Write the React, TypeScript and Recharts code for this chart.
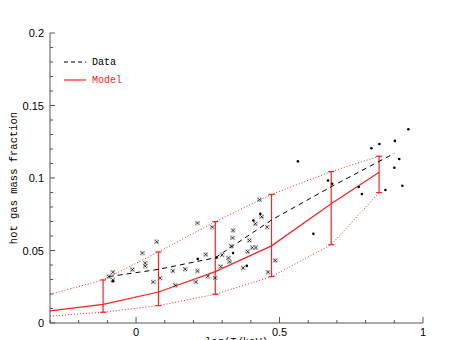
import React from "react";
import { ComposedChart, Line, Scatter, XAxis, YAxis, ErrorBar } from "recharts";

// model bins (log T) and the model band
const binX = [-0.3, -0.115, 0.078, 0.276, 0.472, 0.68, 0.847];
const modelY = [0.0083, 0.0129, 0.0214, 0.0354, 0.0532, 0.0823, 0.104];
const upperY = [0.0198, 0.0297, 0.049, 0.0699, 0.0887, 0.1044, 0.115];
const lowerY = [0.0048, 0.0074, 0.012, 0.0198, 0.032, 0.054, 0.0899];

// binned data (dashed)
const dataX = [-0.095, 0.078, 0.276, 0.472, 0.68, 0.9];
const dataY = [0.032, 0.037, 0.045, 0.071, 0.094, 0.117];

// crosses
const crossX = [0.214, 0.072, 0.022, 0.032, 0.032, -0.013, -0.081, -0.095, -0.081, 0.06, 0.084, 0.128, 0.171, 0.214, 0.137, 0.208, 0.243, 0.25, 0.43, 0.266, 0.338, 0.438, 0.416, 0.457, 0.336, 0.395, 0.3, 0.322, 0.389, 0.405, 0.418, 0.326, 0.295, 0.373, 0.276, 0.485, 0.46, 0.332];
const crossY = [0.0689, 0.056, 0.0482, 0.0413, 0.0392, 0.0368, 0.035, 0.032, 0.0297, 0.0283, 0.0309, 0.0359, 0.0371, 0.0359, 0.026, 0.0283, 0.0472, 0.0323, 0.085, 0.0661, 0.0638, 0.0733, 0.0684, 0.0661, 0.0587, 0.0569, 0.047, 0.0449, 0.0491, 0.052, 0.052, 0.0422, 0.0389, 0.038, 0.0311, 0.0431, 0.035, 0.053];

// dots
const dotX = [0.215, 0.433, 0.409, 0.281, 0.338, 0.386, 0.618, 0.564, 0.949, 0.902, 0.848, 0.82, 0.917, 0.9, 0.669, 0.683, 0.776, 0.787, 0.869, 0.928, -0.081];
const dotY = [0.0442, 0.0753, 0.0707, 0.0451, 0.0482, 0.0394, 0.0615, 0.1115, 0.1336, 0.1256, 0.1235, 0.1205, 0.1131, 0.1071, 0.0983, 0.096, 0.0938, 0.089, 0.0917, 0.0947, 0.0288];

const xTicks = [-0.3, -0.2, -0.1, 0, 0.1, 0.2, 0.3, 0.4, 0.5, 0.6, 0.7, 0.8, 0.9, 1];
const xMajor = [0, 0.5, 1];
const xLabels = ["0", "0.5", "1"];
const yTicks = [0, 0.01, 0.02, 0.03, 0.04, 0.05, 0.06, 0.07, 0.08, 0.09, 0.1, 0.11, 0.12, 0.13, 0.14, 0.15, 0.16, 0.17, 0.18, 0.19, 0.2];
const yMajor = [0, 0.05, 0.1, 0.15, 0.2];
const yLabels = ["0", "0.05", "0.1", "0.15", "0.2"];

const RED = "#ff2020";
const AXIS = "#555";
const mono = "'Liberation Mono', monospace";
const sans = "'Liberation Sans', Arial, sans-serif";

const pts = (xs: number[], ys: number[]) => xs.map((x, i) => ({ x, y: ys[i] }));
const crossData = pts(crossX, crossY);
const dotData = pts(dotX, dotY);
const dataLine = pts(dataX, dataY);
const modelLine = pts(binX, modelY);
const upperLine = pts(binX, upperY);
const lowerLine = pts(binX, lowerY);
const barData = binX.slice(1).map((x, i) => ({
  x,
  y: modelY[i + 1],
  err: [modelY[i + 1] - lowerY[i + 1], upperY[i + 1] - modelY[i + 1]],
}));

const majorIdx = (list: number[], v: number) => list.findIndex((m) => Math.abs(m - v) < 1e-6);

const BottomTick = (p: any) => {
  const i = majorIdx(xMajor, p.payload.value);
  return (
    <g>
      <line x1={p.x} x2={p.x} y1={p.y} y2={p.y - (i >= 0 ? 6 : 3)} stroke={AXIS} />
      {i >= 0 && (
        <text x={p.x} y={p.y + 13} textAnchor="middle" fontFamily={sans} fontSize={11} fill="#000">
          {xLabels[i]}
        </text>
      )}
    </g>
  );
};
const TopTick = (p: any) => {
  const i = majorIdx(xMajor, p.payload.value);
  return <line x1={p.x} x2={p.x} y1={p.y} y2={p.y + (i >= 0 ? 6 : 3)} stroke={AXIS} />;
};
const LeftTick = (p: any) => {
  const i = majorIdx(yMajor, p.payload.value);
  return (
    <g>
      <line x1={p.x} x2={p.x + (i >= 0 ? 5 : 3)} y1={p.y} y2={p.y} stroke={AXIS} />
      {i >= 0 && (
        <text x={p.x - 6} y={p.y + 4} textAnchor="end" fontFamily={sans} fontSize={11} fill="#000">
          {yLabels[i]}
        </text>
      )}
    </g>
  );
};
const RightTick = (p: any) => {
  const i = majorIdx(yMajor, p.payload.value);
  return <line x1={p.x} x2={p.x - (i >= 0 ? 5 : 3)} y1={p.y} y2={p.y} stroke={AXIS} />;
};

const Cross = (p: any) => (
  <g stroke="#000" strokeWidth={0.8}>
    <rect x={p.cx - 2} y={p.cy - 2} width={4} height={4} fill="none" stroke="#aaa" strokeWidth={0.5} />
    <line x1={p.cx - 1.6} y1={p.cy - 1.6} x2={p.cx + 1.6} y2={p.cy + 1.6} />
    <line x1={p.cx - 1.6} y1={p.cy + 1.6} x2={p.cx + 1.6} y2={p.cy - 1.6} />
  </g>
);
const Dot = (p: any) => <circle cx={p.cx} cy={p.cy} r={1.3} fill="#000" />;

export default function App() {
  return (
    <div style={{ position: "absolute", left: 0, top: 0, width: 458, height: 340, background: "#fff", overflow: "hidden" }}>
      <ComposedChart width={458} height={340} margin={{ top: 33, right: 35, left: 0, bottom: 0 }}>
        <XAxis
          type="number"
          dataKey="x"
          domain={[-0.3, 1]}
          ticks={xTicks}
          interval={0}
          allowDataOverflow
          height={17}
          tickSize={0}
          tickMargin={0}
          tickLine={false}
          tick={BottomTick}
          axisLine={{ stroke: AXIS }}
          label={(props: any) => {
            const vb = props.viewBox;
            return (
              <text x={vb.x + vb.width / 2} y={vb.y + 22} textAnchor="middle" fontFamily={mono} fontSize={10.5} fill="#000">
                log(T/keV)
              </text>
            );
          }}
        />
        <XAxis
          xAxisId="top"
          orientation="top"
          type="number"
          dataKey="x"
          domain={[-0.3, 1]}
          ticks={xTicks}
          interval={0}
          height={0}
          tickSize={0}
          tickMargin={0}
          tickLine={false}
          tick={TopTick}
          axisLine={{ stroke: AXIS }}
        />
        <YAxis
          type="number"
          domain={[0, 0.2]}
          ticks={yTicks}
          interval={0}
          width={50}
          tickSize={0}
          tickMargin={0}
          tickLine={false}
          tick={LeftTick}
          axisLine={{ stroke: AXIS }}
          label={(props: any) => {
            const vb = props.viewBox;
            const cx = vb.x + 14;
            const cy = vb.y + vb.height / 2;
            return (
              <text x={cx} y={cy} transform={`rotate(-90 ${cx} ${cy})`} textAnchor="middle" dominantBaseline="middle" fontFamily={mono} fontSize={10.5} fill="#000">
                hot gas mass fraction
              </text>
            );
          }}
        />
        <YAxis
          yAxisId="right"
          orientation="right"
          type="number"
          domain={[0, 0.2]}
          ticks={yTicks}
          interval={0}
          width={0}
          tickSize={0}
          tickMargin={0}
          tickLine={false}
          tick={RightTick}
          axisLine={{ stroke: "#222" }}
        />
        <Line data={upperLine} dataKey="y" type="linear" stroke={RED} strokeWidth={1} strokeDasharray="1 2" dot={false} isAnimationActive={false} />
        <Line data={lowerLine} dataKey="y" type="linear" stroke={RED} strokeWidth={1} strokeDasharray="1 2" dot={false} isAnimationActive={false} />
        <Line data={modelLine} dataKey="y" type="linear" stroke={RED} strokeWidth={1.2} dot={false} isAnimationActive={false} />
        <Scatter data={barData} dataKey="y" shape={() => <g />} isAnimationActive={false}>
          <ErrorBar dataKey="err" direction="y" width={3} stroke={RED} strokeWidth={1.2} isAnimationActive={false} />
        </Scatter>
        <Line data={dataLine} dataKey="y" type="linear" stroke="#000" strokeWidth={1} strokeDasharray="5 4" dot={false} isAnimationActive={false} />
        <Scatter data={crossData} dataKey="y" shape={Cross} isAnimationActive={false} />
        <Scatter data={dotData} dataKey="y" shape={Dot} isAnimationActive={false} />
      </ComposedChart>
      <svg width={80} height={40} style={{ position: "absolute", left: 64, top: 54 }}>
        <line x1={0} x2={22} y1={8} y2={8} stroke="#000" strokeDasharray="4 3" />
        <text x={28} y={11} fontFamily={mono} fontSize={10} fill="#000">Data</text>
        <line x1={0} x2={22} y1={26} y2={26} stroke={RED} strokeWidth={1.2} />
        <text x={28} y={29} fontFamily={mono} fontSize={10} fill={RED}>Model</text>
      </svg>
    </div>
  );
}
